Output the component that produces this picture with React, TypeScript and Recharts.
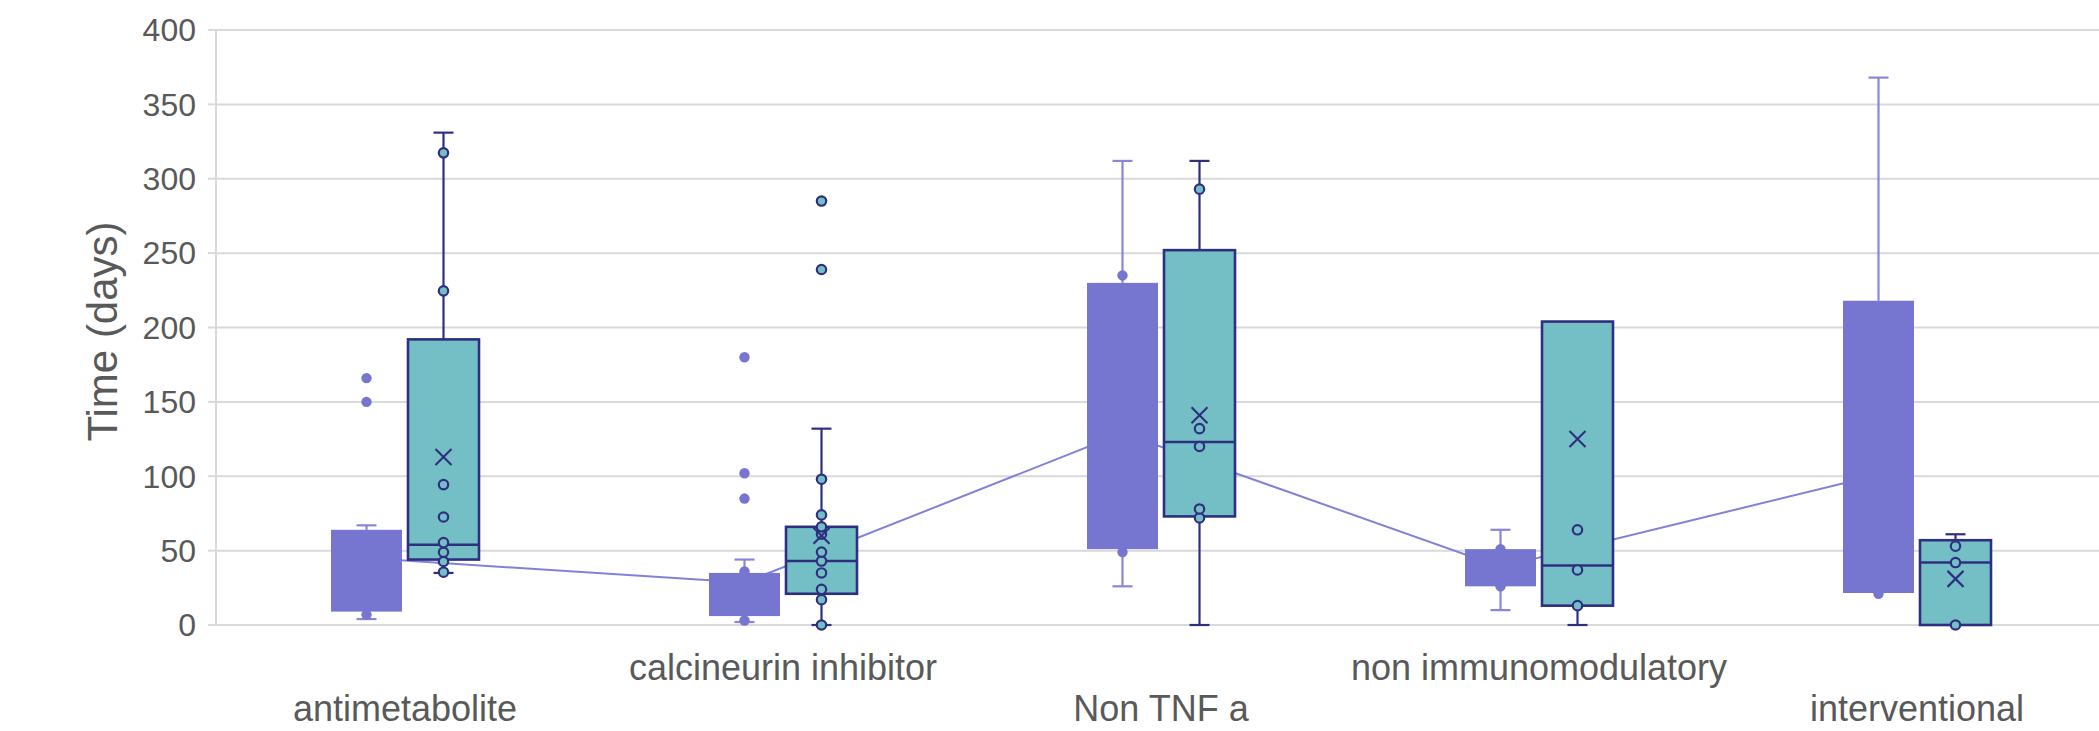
import React from "react";
import {
  ComposedChart,
  Bar,
  Line,
  XAxis,
  YAxis,
  CartesianGrid,
} from "recharts";

const FONT = '"Liberation Sans", Arial, Helvetica, sans-serif';
const TEXT = "#595959";
const GRID = "#d9d9d9";
const W = 2106;
const H = 731;

const categories = [
  "antimetabolite",
  "calcineurin inhibitor",
  "Non TNF a",
  "non immunomodulatory",
  "interventional",
];

const yTicks = [0, 50, 100, 150, 200, 250, 300, 350, 400];

// purple series (filled boxes, mean line)
const aMin = [4, 2, 26, 10, 21.5];
const aQ1 = [9, 6, 51, 26, 21.5];
const aQ3 = [64, 35, 230, 51, 218];
const aMax = [67, 44, 312, 64, 368];
const aMean = [45, 28.5, 129, 39, 101];
const aPoints = [
  [7, 150, 166],
  [3, 36, 85, 102, 180],
  [49, 235],
  [26, 51],
  [21],
];

// teal series (outlined boxes, mean markers)
const bMin = [35, 0, 0, 0, 0];
const bQ1 = [44, 21, 73, 13, 0];
const bMedian = [54, 43, 123, 40, 42];
const bQ3 = [192, 66, 252, 204, 57];
const bMax = [331, 132, 312, 204, 61];
const bMean = [113, 60, 141, 125, 31];
const bPoints = [
  [35.5, 42.7, 48.9, 55.4, 72.6, 94.4, 224.6, 317.4],
  [0, 17, 24, 35, 43, 49, 61, 66, 74, 98, 239, 285],
  [72, 78, 120, 132, 293],
  [13, 37, 64],
  [0, 42, 53],
];

// offset of the purple box centre from the category centre, in category units
const A_OFFSET = 0.102;

const data = categories.map((name, i) => ({
  name,
  pos: i + 0.5 - A_OFFSET,
  aMean: aMean[i],
  aBox: [aQ1[i], aQ3[i]],
  bBox: [bQ1[i], bQ3[i]],
  a: { min: aMin[i], q1: aQ1[i], q3: aQ3[i], max: aMax[i], points: aPoints[i] },
  b: {
    min: bMin[i],
    q1: bQ1[i],
    median: bMedian[i],
    q3: bQ3[i],
    max: bMax[i],
    mean: bMean[i],
    points: bPoints[i],
  },
}));

const styleA = {
  fill: "#7675cf",
  stroke: "none",
  whisker: "#8786da",
  pointFill: "#7675cf",
  pointStroke: "none",
  pointR: 5.2,
  showMedian: false,
  showMean: false,
};

const styleB = {
  fill: "#73bfc5",
  stroke: "#2f2f80",
  whisker: "#2f2f80",
  pointFill: "#73bfc5",
  pointStroke: "#2f2f80",
  pointR: 4.7,
  showMedian: true,
  showMean: true,
};

function BoxPlot(props: any) {
  const { x, y, width, height, payload, field, st } = props;
  const s = payload[field];
  const ppu = height / (s.q3 - s.q1);
  const yv = (v: number) => y + (s.q3 - v) * ppu;
  const cx = x + width / 2;
  const cap = 10;
  const sw = 2.2;
  return (
    <g>
      {s.max > s.q3 && (
        <g stroke={st.whisker} strokeWidth={sw}>
          <line x1={cx} x2={cx} y1={yv(s.q3)} y2={yv(s.max)} />
          <line x1={cx - cap} x2={cx + cap} y1={yv(s.max)} y2={yv(s.max)} />
        </g>
      )}
      {s.min < s.q1 && (
        <g stroke={st.whisker} strokeWidth={sw}>
          <line x1={cx} x2={cx} y1={yv(s.q1)} y2={yv(s.min)} />
          <line x1={cx - cap} x2={cx + cap} y1={yv(s.min)} y2={yv(s.min)} />
        </g>
      )}
      <rect
        x={x}
        y={y}
        width={width}
        height={height}
        fill={st.fill}
        stroke={st.stroke}
        strokeWidth={2.6}
      />
      {st.showMedian && (
        <line
          x1={x}
          x2={x + width}
          y1={yv(s.median)}
          y2={yv(s.median)}
          stroke={st.stroke}
          strokeWidth={2.6}
        />
      )}
      {s.points.map((p: number, k: number) => (
        <circle
          key={k}
          cx={cx}
          cy={yv(p)}
          r={st.pointR}
          fill={st.pointFill}
          stroke={st.pointStroke}
          strokeWidth={2.2}
        />
      ))}
      {st.showMean && (
        <g stroke={st.stroke} strokeWidth={2.2}>
          <line x1={cx - 8} x2={cx + 8} y1={yv(s.mean) - 8} y2={yv(s.mean) + 8} />
          <line x1={cx - 8} x2={cx + 8} y1={yv(s.mean) + 8} y2={yv(s.mean) - 8} />
        </g>
      )}
    </g>
  );
}

function CategoryTick(props: any) {
  const { x, y, payload, index } = props;
  return (
    <text
      x={x}
      y={y + (index % 2 ? 55 : 96)}
      textAnchor="middle"
      fill={TEXT}
      fontSize={36}
      fontFamily={FONT}
    >
      {payload.value}
    </text>
  );
}

const layer: React.CSSProperties = { position: "absolute", left: 0, top: 0 };

export default function App() {
  return (
    <div
      style={{
        position: "absolute",
        left: 0,
        top: 0,
        width: 2099,
        height: 731,
        overflow: "hidden",
        background: "#fff",
      }}
    >
      {/* back layer: grid, y axis and the mean line, which runs behind the boxes */}
      <div style={layer}>
        <ComposedChart
          width={W}
          height={H}
          data={data}
          margin={{ top: 30, right: 0, bottom: 106, left: 0 }}
        >
          <CartesianGrid vertical={false} stroke={GRID} strokeWidth={2} />
          <XAxis xAxisId="pos" type="number" dataKey="pos" domain={[0, 5]} hide />
          <YAxis
            domain={[0, 400]}
            ticks={yTicks}
            width={216}
            tickSize={8}
            tickMargin={12}
            tickLine={{ stroke: GRID, strokeWidth: 2 }}
            axisLine={{ stroke: GRID, strokeWidth: 2 }}
            tick={{ fill: TEXT, fontSize: 32, fontFamily: FONT }}
            label={{
              value: "Time (days)",
              angle: -90,
              position: "center",
              dx: -6,
              dy: 4,
              style: { fill: TEXT, fontSize: 42, fontFamily: FONT },
            }}
          />
          <Line
            xAxisId="pos"
            dataKey="aMean"
            stroke="#8281d8"
            strokeWidth={2}
            dot={false}
            isAnimationActive={false}
          />
        </ComposedChart>
      </div>
      {/* front layer: category axis and the boxes, on the same plot area */}
      <div style={layer}>
        <ComposedChart
          width={W}
          height={H}
          data={data}
          margin={{ top: 30, right: 0, bottom: 0, left: 216 }}
          barSize={71}
          barGap={6}
        >
          <XAxis
            dataKey="name"
            height={106}
            interval={0}
            tickLine={false}
            axisLine={false}
            tickSize={0}
            tickMargin={0}
            tick={<CategoryTick />}
          />
          <YAxis domain={[0, 400]} ticks={yTicks} hide />
          <Bar
            dataKey="aBox"
            isAnimationActive={false}
            shape={(p: any) => <BoxPlot {...p} field="a" st={styleA} />}
          />
          <Bar
            dataKey="bBox"
            isAnimationActive={false}
            shape={(p: any) => <BoxPlot {...p} field="b" st={styleB} />}
          />
        </ComposedChart>
      </div>
    </div>
  );
}
